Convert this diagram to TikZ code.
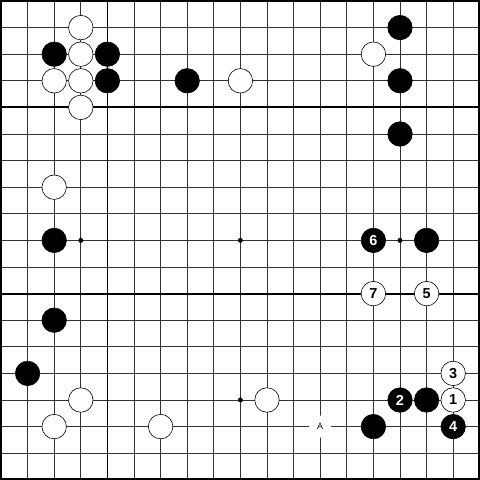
\documentclass[tikz,border=0pt]{standalone}
\usepackage{fontspec}
\setmainfont{Liberation Sans}
\begin{document}
\begin{tikzpicture}[x=1bp,y=-1bp,
  gridline/.style={line width=0.8bp,black!80},
  heavyline/.style={line width=1.8bp,black},
  borderline/.style={line width=2bp,black},
  bstone/.style={circle,fill=black,draw=black,line width=0.6bp,minimum size=24.5bp,inner sep=0pt,text=white,font=\bfseries\fontsize{14.5}{14.5}\selectfont},
  wstone/.style={circle,fill=white,draw=black,line width=0.6bp,minimum size=24.5bp,inner sep=0pt,text=black,font=\bfseries\fontsize{14.5}{14.5}\selectfont},
  starpt/.style={circle,fill=black,inner sep=0pt,minimum size=5bp},
  letterlabel/.style={circle,fill=white,inner sep=0pt,minimum size=22bp,font=\fontsize{9}{9}\selectfont}
]
\useasboundingbox (0,0) rectangle (480,480);
\fill[white] (0,0) rectangle (480,480);
% grid
\foreach \i in {1,...,17} {
  \draw[gridline] ({1+26.6*\i},1) -- ({1+26.6*\i},479);
  \draw[gridline] (1,{1+26.6*\i}) -- (479,{1+26.6*\i});
}
\draw[heavyline] ({1+26.6*4},1) -- ({1+26.6*4},479);
\draw[heavyline] (1,{1+26.6*4}) -- (479,{1+26.6*4});
\draw[heavyline] (1,{1+26.6*11}) -- (479,{1+26.6*11});
\draw[borderline] (1,1) rectangle (479,479);
% star points
\foreach \c/\r [count=\k] in {3/9,9/9,15/9,9/15} {
  \node[starpt] (s\k) at ({1+26.6*\c},{1+26.6*\r}) {};
}
% label A
\node[letterlabel] (A) at ({1+26.6*12},{1+26.6*16}) {A};
% black stones
\foreach \c/\r [count=\k] in {15/1,2/2,4/2,4/3,7/3,15/3,15/5,2/9,16/9,2/12,1/14,16/15,14/16} {
  \node[bstone] (b\k) at ({1+26.6*\c},{1+26.6*\r}) {};
}
% white stones
\foreach \c/\r [count=\k] in {3/1,3/2,14/2,2/3,3/3,9/3,3/4,2/7,3/15,10/15,2/16,6/16} {
  \node[wstone] (w\k) at ({1+26.6*\c},{1+26.6*\r}) {};
}
% numbered stones
\node[wstone] (m1) at ({1+26.6*17},{1+26.6*15}) {1};
\node[bstone] (m2) at ({1+26.6*15},{1+26.6*15}) {2};
\node[wstone] (m3) at ({1+26.6*17},{1+26.6*14}) {3};
\node[bstone] (m4) at ({1+26.6*17},{1+26.6*16}) {4};
\node[wstone] (m5) at ({1+26.6*16},{1+26.6*11}) {5};
\node[bstone] (m6) at ({1+26.6*14},{1+26.6*9}) {6};
\node[wstone] (m7) at ({1+26.6*14},{1+26.6*11}) {7};
\end{tikzpicture}
\end{document}
